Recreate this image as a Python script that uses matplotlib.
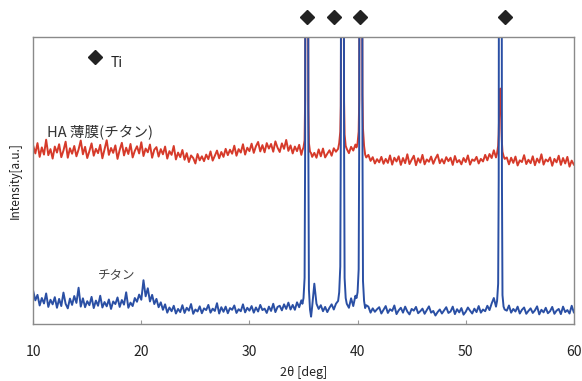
import numpy as np
import matplotlib
matplotlib.use("Agg")
import matplotlib.pyplot as plt
import matplotlib.transforms as mtransforms

plt.rcParams['font.family'] = ['Noto Sans CJK JP', 'DejaVu Sans']

# 2θ grid of background samples (deg)
x_bg = np.arange(10.0, 60.001, 0.2)

# HA 薄膜(チタン) background (arbitrary units, axis 0-100)
red_bg = [
    62.1, 59.4, 63.0, 58.2, 61.5, 59.0, 64.2, 58.8, 60.9, 57.6,
    61.8, 59.7, 62.6, 58.1, 60.4, 63.5, 57.9, 61.2, 59.3, 62.0,
    58.4, 60.8, 63.9, 59.1, 61.7, 57.8, 60.2, 62.9, 58.6, 61.0,
    59.5, 62.4, 57.7, 60.9, 64.0, 58.9, 61.3, 59.6, 62.2, 57.5,
    60.6, 63.1, 58.7, 61.4, 59.2, 62.7, 58.0, 60.3, 61.9, 59.4,
    63.3, 58.5, 61.1, 59.8, 62.5, 57.9, 60.7, 61.6, 58.3, 60.9,
    59.1, 61.8, 57.6, 60.2, 58.9, 62.0, 57.3, 59.7, 58.1, 60.6,
    57.2, 59.5, 56.4, 58.7, 57.8, 55.9, 59.2, 57.0, 58.4, 56.7,
    59.0, 57.4, 60.1, 56.9, 58.6, 60.4, 57.7, 59.9, 58.2, 61.0,
    58.8, 60.7, 59.3, 62.1, 58.6, 60.9, 59.7, 62.6, 59.0, 61.4,
    60.2, 62.8, 59.6, 61.9, 63.4, 60.1, 62.3, 59.8, 63.0, 61.1,
    62.7, 60.0, 63.6, 61.4, 59.9, 62.9, 61.0, 64.1, 60.3, 62.2,
    59.4, 61.8, 60.2, 62.4, 58.9, 60.0, 60.0, 58.8, 60.6, 58.2,
    59.6, 57.9, 60.8, 58.4, 61.1, 58.0, 59.3, 60.5, 58.6, 61.2,
    60.0, 62.3, 61.0, 61.0, 62.0, 60.8, 59.5, 61.7, 60.4, 62.5,
    63.0, 62.0, 62.0, 59.3, 57.6, 58.9, 56.8, 58.1, 55.9, 57.4,
    56.3, 58.2, 55.8, 57.5, 56.1, 58.7, 55.5, 57.9, 56.6, 58.4,
    55.4, 57.8, 56.0, 59.1, 55.7, 57.2, 58.6, 55.3, 57.7, 56.2,
    58.9, 55.6, 57.3, 56.5, 58.3, 55.8, 57.6, 59.0, 56.0, 57.4,
    55.9, 58.1, 56.7, 57.9, 55.4, 58.5, 56.3, 57.1, 55.6, 57.8,
    56.4, 58.7, 55.5, 57.3, 56.8, 58.2, 55.9, 57.5, 56.6, 58.9,
    57.0, 59.2, 57.8, 60.5, 62.0, 60.0, 60.0, 59.0, 57.4, 58.0,
    55.6, 57.9, 56.1, 58.3, 55.2, 57.0, 56.4, 58.8, 55.7, 57.2,
    56.0, 58.4, 55.3, 57.6, 56.2, 59.1, 55.5, 57.3, 56.6, 58.0,
    55.1, 57.5, 56.3, 58.6, 55.4, 57.8, 55.9, 58.2, 54.8, 56.9,
    55.5,
]

# チタン background
blue_bg = [
    11.5, 8.2, 10.1, 6.4, 9.0, 7.1, 10.6, 5.9, 8.4, 6.8,
    9.3, 5.6, 8.7, 6.2, 10.9, 7.0, 5.4, 8.8, 6.6, 9.7,
    7.3, 12.6, 6.0, 8.9, 5.8, 7.9, 6.5, 9.4, 5.5, 8.1,
    6.3, 9.8, 5.7, 7.6, 6.1, 8.5, 5.2, 7.8, 6.9, 9.2,
    5.9, 8.3, 6.7, 11.0, 5.6, 7.4, 6.2, 9.0, 7.7, 10.2,
    8.4, 15.2, 9.6, 12.4, 7.8, 10.1, 6.9, 8.7, 5.8, 7.5,
    4.9, 6.8, 3.9, 5.7, 4.4, 6.3, 3.6, 5.2, 4.1, 6.5,
    3.8, 5.6, 4.6, 6.9, 3.5, 5.0, 4.3, 6.1, 3.7, 5.4,
    4.8, 6.6, 3.9, 5.3, 4.5, 7.2, 3.6, 5.8, 4.2, 6.0,
    3.7, 5.5, 4.9, 6.4, 3.8, 5.1, 4.4, 6.8, 4.0, 5.6,
    4.6, 6.2, 3.9, 5.7, 4.3, 6.6, 4.8, 5.3, 3.8, 6.0,
    4.5, 7.0, 4.1, 5.9, 6.3, 4.7, 6.8, 5.2, 7.4, 5.0,
    6.6, 4.9, 7.5, 5.8, 8.2, 7.0, 7.0, 2.5, 5.0, 6.0,
    14.0, 7.0, 5.2, 6.5, 4.4, 5.9, 4.1, 5.6, 6.8, 5.0,
    7.0, 9.5, 9.0, 9.0, 9.0, 7.5, 5.6, 8.9, 6.2, 9.8,
    11.0, 10.0, 10.0, 6.5, 4.8, 6.0, 3.9, 5.4, 4.2, 5.1,
    5.8, 3.6, 4.9, 6.2, 3.8, 5.1, 4.5, 6.4, 3.4, 4.7,
    5.6, 3.9, 6.0, 4.3, 3.3, 5.2, 4.6, 5.9, 3.7, 4.4,
    5.3, 3.5, 4.8, 6.1, 3.9, 4.5, 2.9, 4.1, 5.0, 3.6,
    4.7, 5.8, 3.8, 4.3, 6.0, 3.4, 5.1, 4.0, 5.5, 3.2,
    4.2, 5.7, 4.6, 3.6, 5.3, 4.1, 6.2, 3.9, 5.0, 4.4,
    6.3, 4.8, 7.1, 9.0, 8.0, 8.0, 8.0, 5.5, 3.8, 4.6,
    6.4, 3.9, 5.2, 4.3, 6.0, 3.6, 4.9, 5.7, 3.5, 4.5,
    5.4, 3.8, 4.7, 6.1, 3.3, 4.9, 4.0, 5.6, 3.7, 4.4,
    5.9, 3.5, 4.6, 5.2, 3.4, 6.0, 4.1, 4.8, 3.6, 6.3,
    4.0,
]

# Ti peaks (finer sampling), values above 100 run off the top
red_peaks = [
    ([34.9, 35.0, 35.1, 35.15, 35.2, 35.25, 35.3, 35.35, 35.4, 35.45, 35.5, 35.6, 35.7],
     [60.5, 61.5, 64, 78, 160, 200, 210, 200, 160, 75, 63, 60, 59.5]),
    ([38.2, 38.3, 38.4, 38.45, 38.5, 38.55, 38.6, 38.65, 38.7, 38.75, 38.8, 38.9, 39.0],
     [61, 63, 67, 76, 150, 200, 210, 200, 160, 78, 66, 62, 61]),
    ([39.9, 40.0, 40.1, 40.15, 40.2, 40.25, 40.3, 40.35, 40.4, 40.45, 40.5, 40.6, 40.7, 40.8],
     [61.5, 63, 67, 78, 160, 200, 210, 200, 165, 80, 68, 62, 59, 58]),
    ([52.8, 52.9, 53.0, 53.05, 53.1, 53.15, 53.2, 53.25, 53.3, 53.35, 53.4, 53.5, 53.6],
     [58, 59.5, 62, 66, 74, 80, 82, 78, 68, 63, 60, 58.5, 57.5]),
]
blue_peaks = [
    ([34.9, 35.0, 35.1, 35.15, 35.2, 35.25, 35.3, 35.35, 35.4, 35.45, 35.5, 35.6, 35.7],
     [7, 9, 16, 60, 250, 300, 310, 300, 250, 60, 12, 5, 2.5]),
    ([38.2, 38.3, 38.4, 38.45, 38.5, 38.55, 38.6, 38.65, 38.7, 38.75, 38.8, 38.9, 39.0],
     [8, 11, 20, 65, 250, 300, 310, 300, 250, 65, 16, 9, 7]),
    ([39.9, 40.0, 40.1, 40.15, 40.2, 40.25, 40.3, 40.35, 40.4, 40.45, 40.5, 40.6, 40.7, 40.8],
     [9, 11, 19, 62, 250, 300, 310, 300, 250, 65, 15, 8, 5.5, 6.5]),
    ([52.8, 52.9, 53.0, 53.05, 53.1, 53.15, 53.2, 53.25, 53.3, 53.35, 53.4, 53.5, 53.6],
     [6, 8, 14, 50, 240, 290, 300, 290, 240, 50, 10, 6, 5]),
]

ti_marks = [35.3, 37.8, 40.2, 53.6]
xticks = [10, 20, 30, 40, 50, 60]


def merge(bg, peaks):
    x = x_bg.copy()
    y = np.array(bg, dtype=float)
    keep = np.ones(len(x), dtype=bool)
    for px, py in peaks:
        keep &= ~((x >= px[0] - 1e-9) & (x <= px[-1] + 1e-9))
    xs = np.concatenate([x[keep]] + [np.array(p[0]) for p in peaks])
    ys = np.concatenate([y[keep]] + [np.array(p[1]) for p in peaks])
    order = np.argsort(xs)
    return xs[order], ys[order]


xr, yr = merge(red_bg, red_peaks)
xb, yb = merge(blue_bg, blue_peaks)

fig = plt.figure(figsize=(5.82, 3.81), dpi=100)
ax = fig.add_axes([0.057, 0.150, 0.929, 0.753])

ax.plot(xr, yr, color="#d63a2a", lw=1.4)
ax.plot(xb, yb, color="#2a4fa4", lw=1.4)

ax.set_xlim(10, 60)
ax.set_ylim(0, 100)
ax.set_xticks(xticks)
ax.set_yticks([])
ax.tick_params(axis="x", direction="in", length=3, color="#999999",
               pad=15, labelsize=10, labelcolor="#222222")
for s in ax.spines.values():
    s.set_color("#8a8a8a")
    s.set_linewidth(1.0)

ax.set_xlabel("2θ [deg]", fontsize=9, color="#222222", labelpad=5)
ax.set_ylabel("Intensity[a.u.]", fontsize=8.5, color="#222222", labelpad=8)

# Ti markers above the plot
trans = mtransforms.blended_transform_factory(ax.transData, fig.transFigure)
ax.plot(ti_marks, [0.955] * len(ti_marks), "D", color="#222222", ms=7,
        transform=trans, clip_on=False)

ax.plot([15.7], [93], "D", color="#222222", ms=7)
ax.text(17.2, 91, "Ti", fontsize=10, color="#222222", va="center")
ax.text(11.3, 67, "HA 薄膜(チタン)", fontsize=10.5, color="#333333", va="center")
ax.text(16.0, 17, "チタン", fontsize=9, color="#444444", va="center")

fig.savefig("out.png", dpi=100)
